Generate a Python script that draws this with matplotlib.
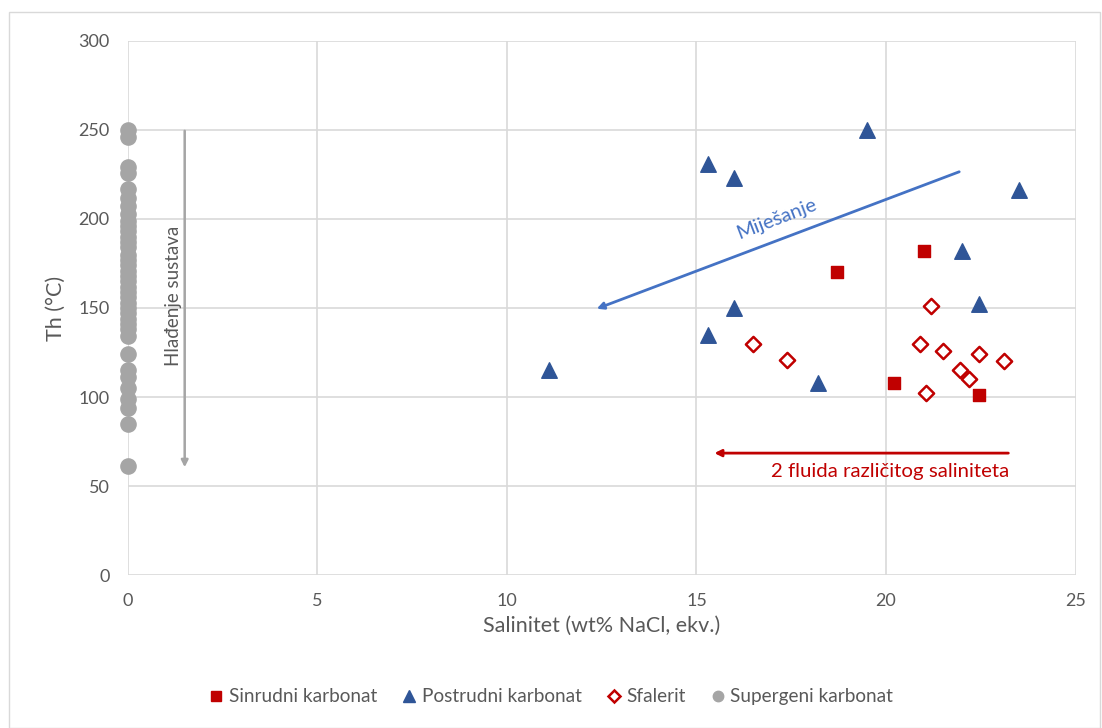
import matplotlib.pyplot as plt
import matplotlib.patches as mpatches
from matplotlib.lines import Line2D

plt.rcParams['font.family'] = ['Lato', 'DejaVu Sans']

# Sinrudni karbonat
sin_x = [18.7, 21.0, 20.2, 22.45]
sin_y = [170, 182, 108, 101]
# Postrudni karbonat
post_x = [11.1, 15.3, 16.0, 19.5, 15.3, 16.0, 18.2, 22.0, 22.45, 23.5]
post_y = [115, 231, 223, 250, 135, 150, 108, 182, 152, 216]
# Sfalerit
sfa_x = [16.5, 17.4, 20.9, 21.2, 21.5, 22.45, 23.1, 21.05, 21.95, 22.2]
sfa_y = [130, 121, 130, 151, 126, 124, 120, 102, 115, 110]
# Supergeni karbonat (all at salinity 0)
sup_y = [250, 246, 229, 226, 217, 212, 207, 203, 199, 196, 193, 190, 187, 184,
         180, 177, 174, 171, 168, 165, 162, 159, 156, 153, 150, 147, 144, 141,
         138, 134, 124, 115, 111, 105, 99, 94, 85, 61]
sup_x = [0] * len(sup_y)

names = ['Sinrudni karbonat', 'Postrudni karbonat', 'Sfalerit', 'Supergeni karbonat']

red = '#c00000'
blue = '#2f5597'
grey = '#a5a5a5'
txt = '#595959'

fig = plt.figure(figsize=(11.02, 7.28), dpi=100)
ax = fig.add_axes([0.116, 0.21, 0.86, 0.734])

ax.scatter(sup_x, sup_y, s=120, c=grey, marker='o', zorder=3, clip_on=False)
ax.scatter(sin_x, sin_y, s=85, c=red, marker='s', zorder=3)
ax.scatter(post_x, post_y, s=125, c=blue, marker='^', zorder=3)
ax.scatter(sfa_x, sfa_y, s=60, facecolors='white', edgecolors=red, linewidths=1.8,
           marker='D', zorder=3)

ax.set_xlim(0, 25)
ax.set_ylim(0, 300)
ax.set_xticks(range(0, 26, 5))
ax.set_yticks(range(0, 301, 50))
ax.grid(True, color='#d9d9d9', linewidth=1.2)
ax.set_axisbelow(True)
for s in ax.spines.values():
    s.set_visible(False)
ax.tick_params(length=0, colors=txt, labelsize=13)
ax.tick_params(axis='y', pad=13)
ax.tick_params(axis='x', pad=13)
ax.set_xlabel('Salinitet (wt% NaCl, ekv.)', color=txt, fontsize=15.5, labelpad=5)
ax.set_ylabel('Th (°C)', color=txt, fontsize=15.5, labelpad=9)

# annotations
ax.annotate('', xy=(1.5, 59), xytext=(1.5, 251),
            arrowprops=dict(arrowstyle='-|>', color=grey, lw=1.8, mutation_scale=10))
ax.text(1.2, 157, 'Hlađenje sustava', rotation=90, ha='center', va='center',
        color=txt, fontsize=13.5)
ax.annotate('', xy=(12.3, 149), xytext=(22.0, 227),
            arrowprops=dict(arrowstyle='-|>', color='#4472c4', lw=2, mutation_scale=10))
ax.text(17.1, 200, 'Miješanje', rotation=21, ha='center', va='center',
        color='#4472c4', fontsize=14.5)
ax.annotate('', xy=(15.4, 68.5), xytext=(23.3, 68.5),
            arrowprops=dict(arrowstyle='-|>', color=red, lw=2, mutation_scale=10))
ax.text(20.1, 58, '2 fluida različitog saliniteta', ha='center', va='center',
        color=red, fontsize=14.7)

handles = [
    Line2D([], [], ls='none', marker='s', ms=7.5, color=red),
    Line2D([], [], ls='none', marker='^', ms=9, color=blue),
    Line2D([], [], ls='none', marker='D', ms=6, mfc='white', mec=red, mew=1.8),
    Line2D([], [], ls='none', marker='o', ms=7.5, color=grey),
]
fig.legend(handles, names, loc='center',
           bbox_to_anchor=(0.5, 0.043), ncol=4, frameon=False, fontsize=13.7,
           labelcolor=txt, handlelength=0.8, handletextpad=0.25, columnspacing=1.3)

fig.patches.append(mpatches.Rectangle((0.008, 0.0), 0.99, 0.983, transform=fig.transFigure,
                                      fill=False, edgecolor='#d9d9d9', lw=1))

fig.savefig('out.png', dpi=100)
